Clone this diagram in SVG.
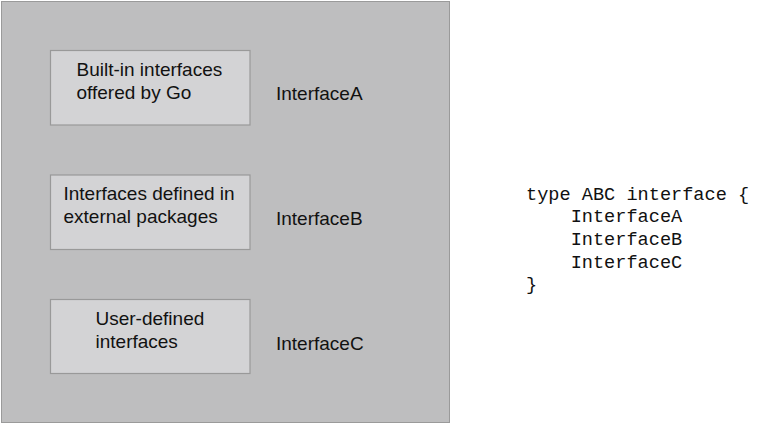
<svg xmlns="http://www.w3.org/2000/svg" width="757" height="424" viewBox="0 0 757 424">
<style>
.outer{fill:#bebebf;stroke:#9a9a9a;stroke-width:1}
.box{fill:#d3d3d5;stroke:#999;stroke-width:1.2}
.t{font-family:"Liberation Sans",Arial,sans-serif;font-size:19px;fill:#111}
.code{font-family:"Liberation Mono","Courier New",monospace;font-size:18.6px;fill:#111}
</style>
<rect width="757" height="424" fill="#fff"/>
<g id="container">
<rect class="outer" x="1.5" y="1.5" width="448" height="421"/>
</g>
<g id="nodeA">
<rect class="box" x="50.5" y="50.5" width="199.5" height="74.5"/>
<text class="t" x="76.5" y="76">Built-in interfaces</text>
<text class="t" x="76.5" y="99">offered by Go</text>
</g>
<g id="labelA"><text class="t" x="276" y="100">InterfaceA</text></g>
<g id="nodeB">
<rect class="box" x="50.5" y="175" width="199.5" height="74.5"/>
<text class="t" x="63.5" y="200">Interfaces defined in</text>
<text class="t" x="63.5" y="223">external packages</text>
</g>
<g id="labelB"><text class="t" x="276" y="225">InterfaceB</text></g>
<g id="nodeC">
<rect class="box" x="50.5" y="299.5" width="199.5" height="74"/>
<text class="t" x="95.5" y="325">User-defined</text>
<text class="t" x="95.5" y="348">interfaces</text>
</g>
<g id="labelC"><text class="t" x="276" y="350">InterfaceC</text></g>
<g id="connectors"></g>
<g id="code">
<text class="code" x="526" y="200" xml:space="preserve">type ABC interface {</text>
<text class="code" x="526" y="222" xml:space="preserve">    InterfaceA</text>
<text class="code" x="526" y="245" xml:space="preserve">    InterfaceB</text>
<text class="code" x="526" y="268" xml:space="preserve">    InterfaceC</text>
<text class="code" x="526" y="290" xml:space="preserve">}</text>
</g>
</svg>
